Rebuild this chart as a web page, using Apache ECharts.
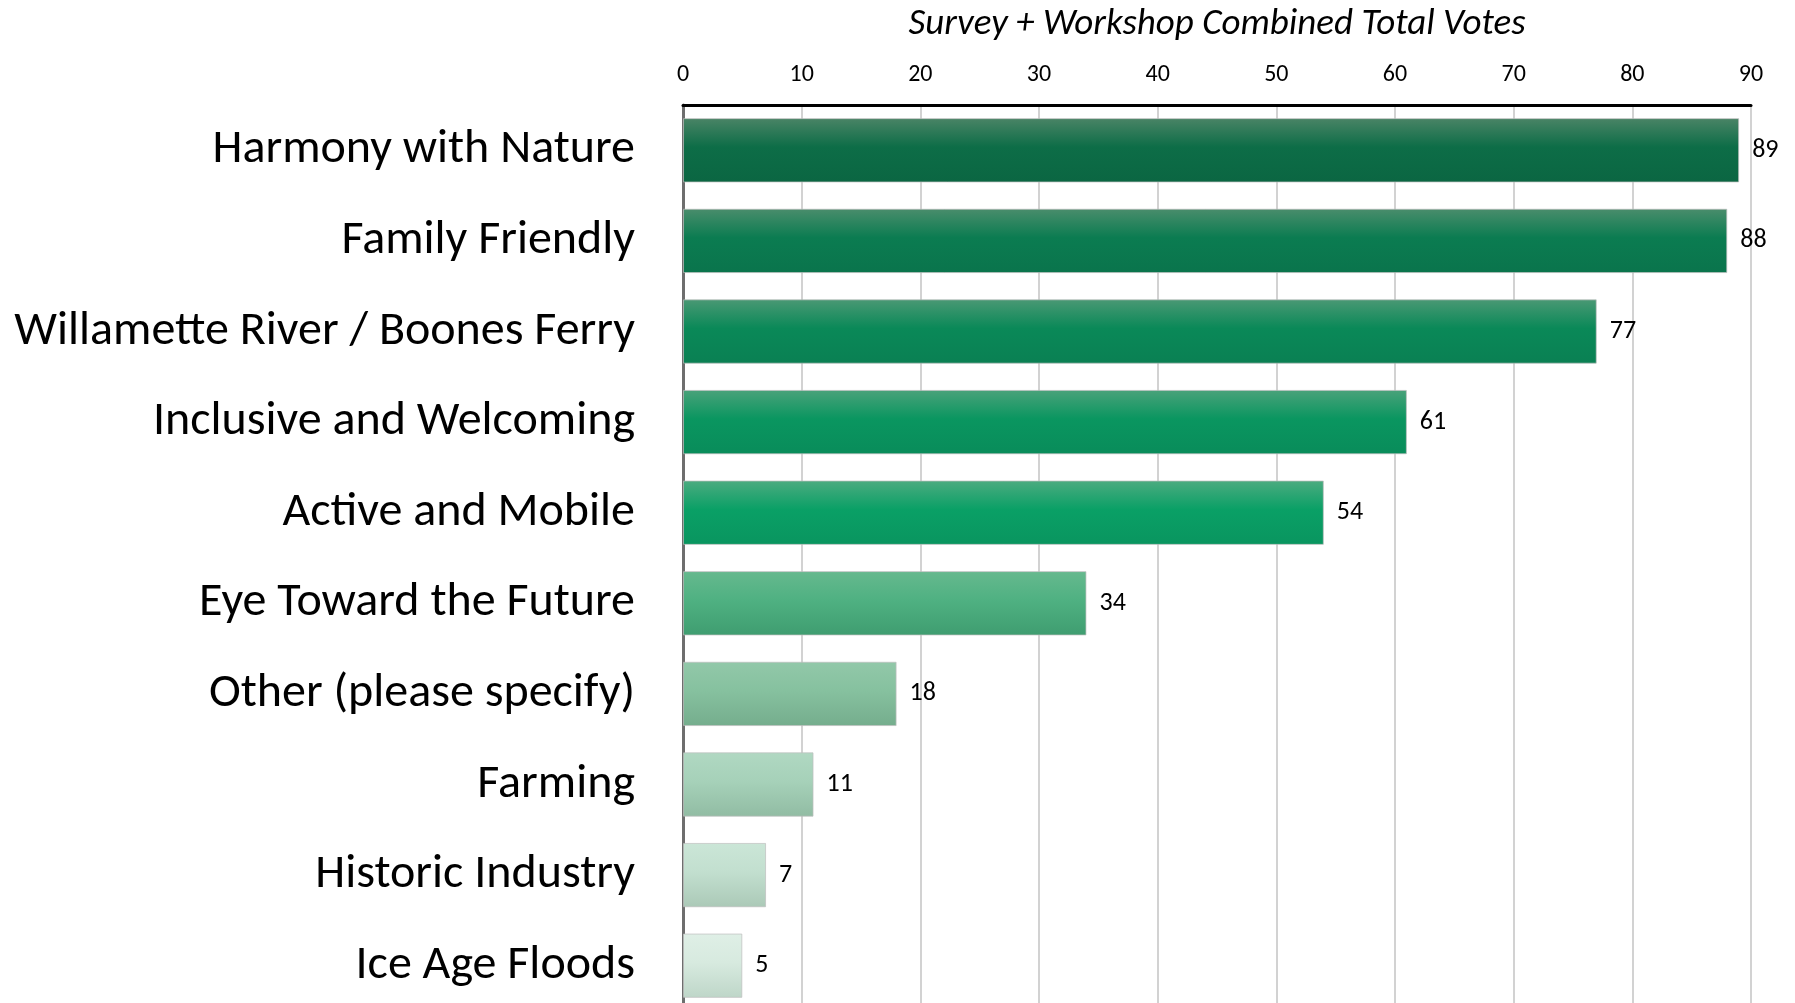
<!DOCTYPE html>
<html>
<head>
<meta charset="utf-8">
<script src="https://cdn.jsdelivr.net/npm/echarts@6/dist/echarts.min.js"></script>
<style>
html,body{margin:0;padding:0;background:#fff;}
#chart{width:1795px;height:1003px;}
</style>
</head>
<body>
<div id="chart"></div>
<script>
const categories = ["Harmony with Nature","Family Friendly","Willamette River / Boones Ferry","Inclusive and Welcoming","Active and Mobile","Eye Toward the Future","Other (please specify)","Farming","Historic Industry","Ice Age Floods"];
const votes = [89, 88, 77, 61, 54, 34, 18, 11, 7, 5];
const axisTitle = "Survey + Workshop Combined Total Votes";
const xTicks = {min: 0, max: 90, interval: 10};

// bar gradient colours (top, middle, bottom)
const barTop =    ["#4a8466","#4a8d6c","#4a9874","#4aa27a","#4cab80","#66b98e","#92c8a9","#b0d8c2","#cbe6d7","#dfefe6"];
const barMid =    ["#0d6d47","#0b7c51","#0a8958","#0a9660","#0aa066","#4fb182","#86c19f","#a6d1b9","#c2dfcf","#d7eadf"];
const barBottom = ["#0b6642","#0a744c","#0a8053","#098c5a","#09955f","#3f9d70","#75ad8d","#91bca3","#abc9b7","#bed6c8"];

const FONT = "Carlito, Calibri, Lato, sans-serif";

const chart = echarts.init(document.getElementById('chart'));
const seriesData = votes.map((v, i) => ({
  value: v,
  itemStyle: {
    color: new echarts.graphic.LinearGradient(0, 0, 0, 1, [
      {offset: 0, color: barTop[i]},
      {offset: 0.45, color: barMid[i]},
      {offset: 1, color: barBottom[i]}
    ]),
    borderColor: 'rgba(190,190,190,0.7)',
    borderWidth: 1
  }
}));

chart.setOption({
  animation: false,
  backgroundColor: '#fff',
  grid: {left: 683, right: 44, top: 105, bottom: -8, containLabel: false, outerBoundsMode: 'none'},
  xAxis: {
    type: 'value',
    position: 'top',
    min: xTicks.min, max: xTicks.max, interval: xTicks.interval,
    name: axisTitle,
    nameLocation: 'middle',
    nameGap: 62,
    nameTextStyle: {fontFamily: FONT, fontStyle: 'italic', fontSize: 37, color: '#000'},
    axisLine: {show: true, lineStyle: {color: '#000', width: 3}},
    axisTick: {show: false},
    axisLabel: {fontFamily: FONT, fontSize: 24, color: '#000', margin: 18},
    splitLine: {show: true, lineStyle: {color: '#d2d2d2', width: 2}}
  },
  yAxis: {
    type: 'category',
    inverse: true,
    data: categories,
    axisLine: {show: true, lineStyle: {color: '#6e6e6e', width: 3}},
    axisTick: {show: false},
    axisLabel: {fontFamily: FONT, fontSize: 48, color: '#000', margin: 48},
    splitLine: {show: false}
  },
  series: [{
    type: 'bar',
    data: seriesData,
    barCategoryGap: '29%',
    label: {show: true, position: 'right', distance: 13, fontFamily: FONT, fontSize: 26, color: '#000'}
  }]
});
</script>
</body>
</html>
